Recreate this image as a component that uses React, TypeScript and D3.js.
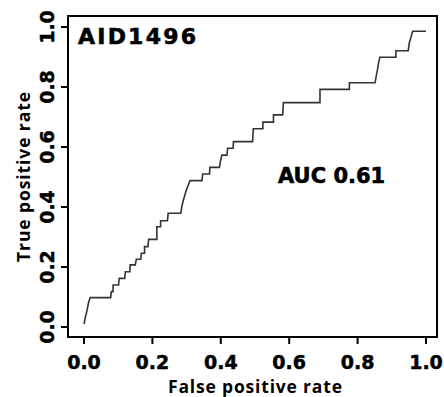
import React, { useEffect, useRef } from 'react'
import * as d3 from 'd3'

// ROC curve vertices
const rocFpr = [
  0.0, 0.003, 0.008, 0.013, 0.018, 0.078, 0.080, 0.085, 0.085, 0.101, 0.103, 0.119, 0.121, 0.134,
  0.135, 0.150, 0.153, 0.166, 0.168, 0.177, 0.177, 0.187, 0.189, 0.213, 0.213, 0.224, 0.224, 0.244,
  0.246, 0.283, 0.286, 0.290, 0.295, 0.300, 0.310, 0.345, 0.347, 0.367, 0.368, 0.396, 0.399, 0.403,
  0.418, 0.420, 0.436, 0.437, 0.493, 0.495, 0.523, 0.523, 0.554, 0.554, 0.581, 0.583, 0.690, 0.690,
  0.776, 0.776, 0.851, 0.854, 0.858, 0.861, 0.865, 0.912, 0.912, 0.948, 0.951, 0.955, 0.961, 1.0,
]
const rocTpr = [
  0.010, 0.027, 0.051, 0.080, 0.098, 0.098, 0.118, 0.118, 0.140, 0.140, 0.162, 0.162, 0.184, 0.184,
  0.207, 0.207, 0.226, 0.226, 0.246, 0.246, 0.268, 0.268, 0.292, 0.292, 0.334, 0.334, 0.354, 0.354,
  0.379, 0.379, 0.401, 0.421, 0.440, 0.459, 0.488, 0.488, 0.510, 0.510, 0.532, 0.532, 0.553, 0.573,
  0.573, 0.596, 0.596, 0.618, 0.618, 0.661, 0.661, 0.683, 0.683, 0.707, 0.707, 0.748, 0.748, 0.792,
  0.792, 0.814, 0.814, 0.834, 0.857, 0.879, 0.899, 0.899, 0.921, 0.921, 0.946, 0.962, 0.986, 0.986,
]
const tickValues = [0, 0.2, 0.4, 0.6, 0.8, 1.0]
const datasetLabel = 'AID1496'
const aucLabel = 'AUC 0.61'
const xTitle = 'False positive rate'
const yTitle = 'True positive rate'

const width = 444
const height = 397

function RocChart() {
  const svgRef = useRef<SVGSVGElement>(null)

  useEffect(() => {
    const svg = d3.select(svgRef.current)
    svg.selectAll('*').remove()

    // plot box (R style: data range padded inside the box)
    const box = { left: 68, right: 437, top: 16, bottom: 337 }

    const x = d3.scaleLinear().domain([0, 1]).range([84, 426])
    const y = d3.scaleLinear().domain([0, 1]).range([327, 27])

    const numFont = 'Verdana, "DejaVu Sans", sans-serif'
    const titleFont = '"Open Sans", "Liberation Sans", sans-serif'

    svg.append('rect')
      .attr('width', width)
      .attr('height', height)
      .attr('fill', '#fff')

    // x axis ticks + labels
    const xAxis = svg.append('g')
    xAxis.selectAll('line')
      .data(tickValues)
      .enter().append('line')
      .attr('x1', d => x(d))
      .attr('x2', d => x(d))
      .attr('y1', box.bottom)
      .attr('y2', box.bottom + 7)
      .attr('stroke', '#000')
      .attr('stroke-width', 2)
    xAxis.selectAll('text')
      .data(tickValues)
      .enter().append('text')
      .attr('x', d => x(d))
      .attr('y', 369)
      .attr('text-anchor', 'middle')
      .style('font-family', numFont)
      .style('font-weight', 'bold')
      .style('font-size', '19px')
      .style('stroke', '#000')
      .style('stroke-width', 0.5)
      .text(d => d3.format('.1f')(d))

    // y axis ticks + labels (rotated)
    const yAxis = svg.append('g')
    yAxis.selectAll('line')
      .data(tickValues)
      .enter().append('line')
      .attr('x1', box.left)
      .attr('x2', box.left - 7)
      .attr('y1', d => y(d))
      .attr('y2', d => y(d))
      .attr('stroke', '#000')
      .attr('stroke-width', 2)
    yAxis.selectAll('text')
      .data(tickValues)
      .enter().append('text')
      .attr('transform', d => `translate(54,${y(d)}) rotate(-90)`)
      .attr('text-anchor', 'middle')
      .style('font-family', numFont)
      .style('font-weight', 'bold')
      .style('font-size', '19px')
      .style('stroke', '#000')
      .style('stroke-width', 0.5)
      .text(d => d3.format('.1f')(d))

    // axis titles
    svg.append('text')
      .attr('x', (x(0) + x(1)) / 2)
      .attr('y', 393)
      .attr('text-anchor', 'middle')
      .attr('textLength', 174)
      .attr('lengthAdjust', 'spacing')
      .style('font-family', titleFont)
      .style('font-weight', 'bold')
      .style('font-size', '17.5px')
      .text(xTitle)

    svg.append('text')
      .attr('transform', `translate(30,${(y(0) + y(1)) / 2}) rotate(-90)`)
      .attr('text-anchor', 'middle')
      .attr('textLength', 170)
      .attr('lengthAdjust', 'spacing')
      .style('font-family', titleFont)
      .style('font-weight', 'bold')
      .style('font-size', '17.5px')
      .text(yTitle)

    // ROC curve
    const points: [number, number][] = rocFpr.map((f, i) => [f, rocTpr[i]])
    const line = d3.line<[number, number]>()
      .x(d => x(d[0]))
      .y(d => y(d[1]))

    svg.append('path')
      .datum(points)
      .attr('d', line)
      .attr('fill', 'none')
      .attr('stroke', '#333')
      .attr('stroke-width', 1.6)

    // box
    svg.append('rect')
      .attr('x', box.left)
      .attr('y', box.top)
      .attr('width', box.right - box.left)
      .attr('height', box.bottom - box.top)
      .attr('fill', 'none')
      .attr('stroke', '#000')
      .attr('stroke-width', 2)

    // annotations
    svg.append('text')
      .attr('x', 78)
      .attr('y', 44)
      .attr('textLength', 118)
      .attr('lengthAdjust', 'spacing')
      .style('font-family', numFont)
      .style('font-weight', 'bold')
      .style('font-size', '22px')
      .style('stroke', '#000')
      .style('stroke-width', 0.6)
      .text(datasetLabel)

    svg.append('text')
      .attr('x', 278)
      .attr('y', 183)
      .style('font-family', numFont)
      .style('font-weight', 'bold')
      .style('font-size', '21px')
      .style('stroke', '#000')
      .style('stroke-width', 0.6)
      .text(aucLabel)
  }, [])

  return (
    <svg
      ref={svgRef}
      width={width}
      height={height}
      style={{ position: 'absolute', left: 0, top: 0 }}
    />
  )
}

export default function App() {
  return <RocChart />
}
